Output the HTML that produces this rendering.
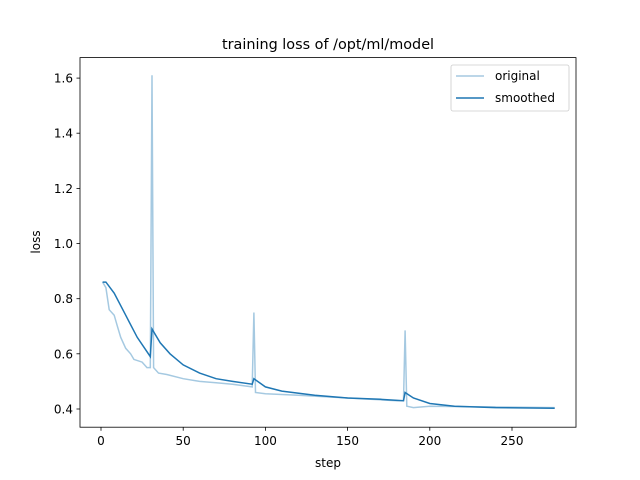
<!DOCTYPE html>
<html><head><style>body{margin:0;background:#fff}svg{display:block}text{font-family:"DejaVu Sans","Liberation Sans",sans-serif;fill:#000}</style></head><body>
<svg width="640" height="480" xmlns="http://www.w3.org/2000/svg">
<rect width="640" height="480" fill="#fff"/>
<text x="328" y="49" font-size="14.4" text-anchor="middle">training loss of /opt/ml/model</text>
<polyline fill="none" stroke="#1f77b4" stroke-opacity="0.4" stroke-width="1.5" points="102.6,282.1 105.9,287.6 109.2,309.7 114.2,315.2 117.4,326.3 120.7,337.3 125.7,348.3 130.6,353.8 133.9,359.4 142.1,362.1 147,367.6 150.3,367.6 152,75.3 153.6,367.6 158.5,373.1 166.8,374.5 183.2,378.7 199.6,381.4 216.1,382.8 232.5,384.2 252.2,386.9 253.9,312.5 255.5,392.5 265.4,393.8 298.3,395.2 347.6,398 396.9,400.7 403.5,400.7 405.1,330.4 406.8,406.2 413.4,407.6 429.8,406.2 554.7,407.6"/>
<polyline fill="none" stroke="#1f77b4" stroke-width="1.5" points="102.6,282.1 105.9,282.1 114.2,293.2 125.7,315.2 137.2,337.3 150.3,356.6 152,329 160.2,342.8 170,353.8 183.2,364.9 199.6,373.1 216.1,378.7 232.5,381.4 252.2,384.2 253.9,378.7 265.4,386.9 281.8,391.1 314.7,395.2 347.6,398 380.5,399.3 403.5,400.7 405.1,392.5 413.4,398 429.8,403.5 454.5,406.2 495.6,407.6 554.7,408.2"/>
<rect x="80" y="57.6" width="496" height="369.6" fill="none" stroke="#000" stroke-width="0.8"/>
<g stroke="#000" stroke-width="0.8">
<line x1="101" y1="427.2" x2="101" y2="430.7"/><line x1="183.2" y1="427.2" x2="183.2" y2="430.7"/><line x1="265.4" y1="427.2" x2="265.4" y2="430.7"/><line x1="347.6" y1="427.2" x2="347.6" y2="430.7"/><line x1="429.8" y1="427.2" x2="429.8" y2="430.7"/><line x1="512" y1="427.2" x2="512" y2="430.7"/>
<line x1="76.5" y1="409" x2="80" y2="409"/><line x1="76.5" y1="353.8" x2="80" y2="353.8"/><line x1="76.5" y1="298.7" x2="80" y2="298.7"/><line x1="76.5" y1="243.5" x2="80" y2="243.5"/><line x1="76.5" y1="188.4" x2="80" y2="188.4"/><line x1="76.5" y1="133.2" x2="80" y2="133.2"/><line x1="76.5" y1="78.1" x2="80" y2="78.1"/>
</g>
<g font-size="12" text-anchor="middle">
<text x="101" y="445">0</text><text x="183.2" y="445">50</text><text x="265.4" y="445">100</text><text x="347.6" y="445">150</text><text x="429.8" y="445">200</text><text x="512" y="445">250</text>
<text x="328" y="467">step</text>
</g>
<g font-size="12" text-anchor="end">
<text x="73" y="413.5">0.4</text><text x="73" y="358.3">0.6</text><text x="73" y="303.2">0.8</text><text x="73" y="248">1.0</text><text x="73" y="192.9">1.2</text><text x="73" y="137.7">1.4</text><text x="73" y="82.6">1.6</text>
</g>
<text x="40" y="242" font-size="12" text-anchor="middle" transform="rotate(-90 40 242)">loss</text>
<rect x="451" y="65" width="118" height="46" rx="2" fill="#fff" stroke="#ccc" stroke-width="0.8"/>
<line x1="456" y1="76" x2="484" y2="76" stroke="#1f77b4" stroke-opacity="0.4" stroke-width="1.5"/>
<line x1="456" y1="98" x2="484" y2="98" stroke="#1f77b4" stroke-width="1.5"/>
<text x="495" y="80" font-size="12">original</text>
<text x="495" y="102" font-size="12">smoothed</text>
</svg>
</body></html>
